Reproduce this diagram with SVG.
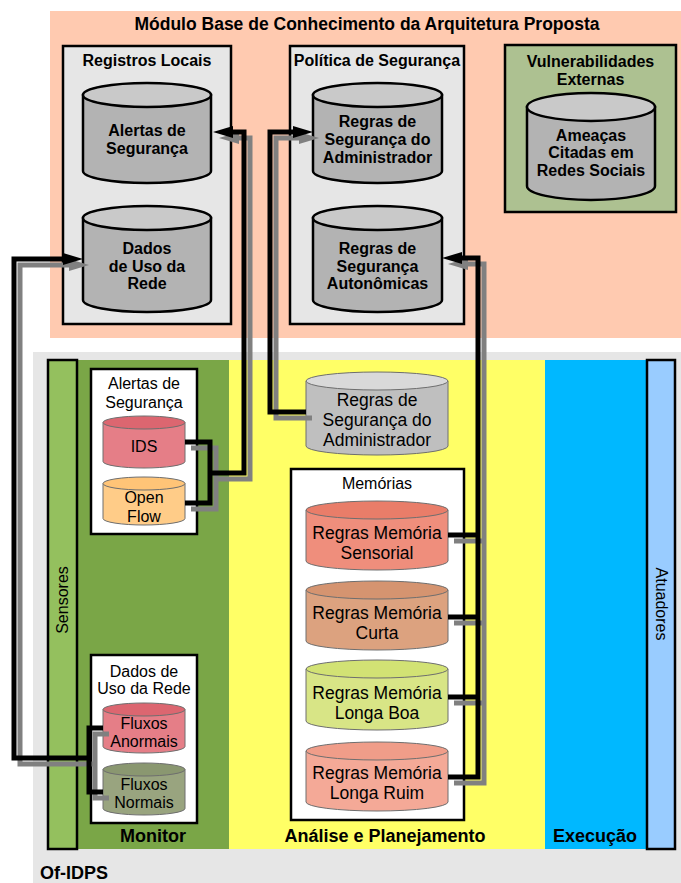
<svg xmlns="http://www.w3.org/2000/svg" width="681" height="883" viewBox="0 0 681 883">
  <style>
    text { font-family: "Liberation Sans", Arial, sans-serif; fill: #000; text-anchor: middle; }
    .title { font-size: 17.5px; font-weight: bold; }
    .hdr { font-size: 16px; font-weight: bold; }
    .sec { font-size: 18px; font-weight: bold; }
    .lbl { font-size: 16px; }
    .big { font-size: 17.5px; }
    .box { fill: #e6e6e6; stroke: #000; stroke-width: 2.5; }
    .wbox { fill: #fff; stroke: #000; stroke-width: 2.5; }
    .cylB { fill: #b3b3b3; stroke: #000; stroke-width: 2.5; }
    .cylT { fill: #c9c9c9; stroke: #000; stroke-width: 2.5; }
    .thin { stroke: #6e6e6e; stroke-width: 1; }
    .wire { fill: none; stroke: #000; stroke-width: 5; stroke-linejoin: miter; }
    .shadow { fill: none; stroke: #808080; stroke-width: 5; stroke-linejoin: miter; }
  </style>
  <defs>
    <marker id="ah" viewBox="0 0 20 12" refX="0" refY="6" markerWidth="20" markerHeight="12" markerUnits="userSpaceOnUse" orient="auto">
      <path d="M0,0 L20,6 L0,12 Z" fill="#000"/>
    </marker>
    <marker id="ahs" viewBox="0 0 20 12" refX="0" refY="6" markerWidth="20" markerHeight="12" markerUnits="userSpaceOnUse" orient="auto">
      <path d="M0,0 L20,6 L0,12 Z" fill="#808080"/>
    </marker>
  </defs>

  <rect width="681" height="883" fill="#fff"/>

  <!-- Knowledge base module -->
  <g id="knowledge-base">
    <rect x="50" y="11" width="631" height="327" fill="#ffcab0"/>
    <text class="title" x="367" y="30">Módulo Base de Conhecimento da Arquitetura Proposta</text>
  </g>

  <g id="registros-locais">
    <rect class="box" x="63" y="46" width="168" height="278"/>
    <text class="hdr" x="147" y="66">Registros Locais</text>
  </g>
  <g id="kb-alertas">
    <path class="cylB" d="M83,95 V171 A64,12 0 0 0 211,171 V95 Z"/>
    <ellipse class="cylT" cx="147" cy="95" rx="64" ry="12"/>
    <text class="hdr" x="147" y="136">Alertas de</text>
    <text class="hdr" x="147" y="154">Segurança</text>
  </g>
  <g id="kb-dados">
    <path class="cylB" d="M83,218 V300 A64,12 0 0 0 211,300 V218 Z"/>
    <ellipse class="cylT" cx="147" cy="218" rx="64" ry="12"/>
    <text class="hdr" x="147" y="254">Dados</text>
    <text class="hdr" x="147" y="272">de Uso da</text>
    <text class="hdr" x="147" y="289">Rede</text>
  </g>

  <g id="politica">
    <rect class="box" x="290" y="46" width="174" height="278"/>
    <text class="hdr" x="377" y="66">Política de Segurança</text>
  </g>
  <g id="kb-regras-admin">
    <path class="cylB" d="M313,95 V171 A64.5,12 0 0 0 442,171 V95 Z"/>
    <ellipse class="cylT" cx="377.5" cy="95" rx="64.5" ry="12"/>
    <text class="hdr" x="377.5" y="127">Regras de</text>
    <text class="hdr" x="377.5" y="145">Segurança do</text>
    <text class="hdr" x="377.5" y="163">Administrador</text>
  </g>
  <g id="kb-regras-auto">
    <path class="cylB" d="M313,218 V300 A64.5,12 0 0 0 442,300 V218 Z"/>
    <ellipse class="cylT" cx="377.5" cy="218" rx="64.5" ry="12"/>
    <text class="hdr" x="377.5" y="254">Regras de</text>
    <text class="hdr" x="377.5" y="272">Segurança</text>
    <text class="hdr" x="377.5" y="289">Autonômicas</text>
  </g>

  <g id="vulnerabilidades">
    <rect x="505" y="45" width="171" height="167" fill="#adc191" stroke="#000" stroke-width="2.5"/>
    <text class="hdr" x="590.5" y="67">Vulnerabilidades</text>
    <text class="hdr" x="590.5" y="85">Externas</text>
  </g>
  <g id="kb-ameacas">
    <path class="cylB" d="M527,107 V186 A64,14 0 0 0 655,186 V107 Z"/>
    <ellipse class="cylT" cx="591" cy="107" rx="64" ry="14"/>
    <text class="hdr" x="591" y="141">Ameaças</text>
    <text class="hdr" x="591" y="158">Citadas em</text>
    <text class="hdr" x="591" y="176">Redes Sociais</text>
  </g>

  <!-- Of-IDPS system -->
  <g id="of-idps">
    <rect x="33" y="352" width="648" height="531" fill="#e6e6e6"/>
    <rect x="48" y="360" width="181" height="489" fill="#7aa647"/>
    <rect x="229" y="360" width="316" height="489" fill="#ffff66"/>
    <rect x="545" y="360" width="102" height="489" fill="#00b8ff"/>
    <text class="sec" x="40" y="879" style="text-anchor:start">Of-IDPS</text>
    <text class="sec" x="153" y="842">Monitor</text>
    <text class="sec" x="385" y="842">Análise e Planejamento</text>
    <text class="sec" x="595" y="842">Execução</text>
  </g>

  <g id="sensores">
    <rect x="48" y="360" width="29" height="489" fill="#94c05e" stroke="#000" stroke-width="2.5"/>
    <text class="lbl" transform="translate(68,600) rotate(-90)">Sensores</text>
  </g>
  <g id="atuadores">
    <rect x="647" y="360" width="28" height="489" fill="#99ccff" stroke="#000" stroke-width="2.5"/>
    <text class="lbl" transform="translate(656,604) rotate(90)">Atuadores</text>
  </g>

  <g id="mon-alertas">
    <rect class="wbox" x="91" y="369" width="106" height="165"/>
    <text class="lbl" x="144" y="389">Alertas de</text>
    <text class="lbl" x="144" y="408">Segurança</text>
  </g>
  <g id="mon-ids">
    <path class="thin" fill="#e57e87" d="M103,422.5 V461.5 A41,6.5 0 0 0 185,461.5 V422.5 Z"/>
    <ellipse class="thin" fill="#dc6670" cx="144" cy="422.5" rx="41" ry="6.5"/>
    <text class="lbl" x="144" y="452">IDS</text>
  </g>
  <g id="mon-openflow">
    <path class="thin" fill="#ffcc88" d="M103,483.5 V518.5 A41,6.5 0 0 0 185,518.5 V483.5 Z"/>
    <ellipse class="thin" fill="#ffc477" cx="144" cy="483.5" rx="41" ry="6.5"/>
    <text class="lbl" x="144" y="503">Open</text>
    <text class="lbl" x="144" y="522">Flow</text>
  </g>

  <g id="mon-dados">
    <rect class="wbox" x="91" y="655" width="106" height="168"/>
    <text class="lbl" x="144" y="677">Dados de</text>
    <text class="lbl" x="144" y="694">Uso da Rede</text>
  </g>
  <g id="mon-anormais">
    <path class="thin" fill="#e57e87" d="M103,709.5 V746.5 A41,6.5 0 0 0 185,746.5 V709.5 Z"/>
    <ellipse class="thin" fill="#dc6670" cx="144" cy="709.5" rx="41" ry="6.5"/>
    <text class="lbl" x="144" y="729">Fluxos</text>
    <text class="lbl" x="144" y="747">Anormais</text>
  </g>
  <g id="mon-normais">
    <path class="thin" fill="#99a47f" d="M103,769.5 V808.5 A41,6.5 0 0 0 185,808.5 V769.5 Z"/>
    <ellipse class="thin" fill="#8a9770" cx="144" cy="769.5" rx="41" ry="6.5"/>
    <text class="lbl" x="144" y="790">Fluxos</text>
    <text class="lbl" x="144" y="808">Normais</text>
  </g>

  <g id="ap-regras-admin">
    <path class="thin" fill="#bfbfbf" d="M306,381 V446 A71,9 0 0 0 448,446 V381 Z"/>
    <ellipse class="thin" fill="#d9d9d9" cx="377" cy="381" rx="71" ry="9"/>
    <text class="big" x="377" y="406">Regras de</text>
    <text class="big" x="377" y="426">Segurança do</text>
    <text class="big" x="377" y="446">Administrador</text>
  </g>

  <g id="memorias">
    <rect class="wbox" x="291" y="469" width="173" height="351"/>
    <text class="lbl" x="377" y="489">Memórias</text>
  </g>
  <g id="mem-sensorial">
    <path class="thin" fill="#ef8e7c" d="M306,510 V561 A71,9 0 0 0 448,561 V510 Z"/>
    <ellipse class="thin" fill="#e97d69" cx="377" cy="510" rx="71" ry="9"/>
    <text class="big" x="377" y="539">Regras Memória</text>
    <text class="big" x="377" y="559">Sensorial</text>
  </g>
  <g id="mem-curta">
    <path class="thin" fill="#dca27f" d="M306,590 V641 A71,9 0 0 0 448,641 V590 Z"/>
    <ellipse class="thin" fill="#d59470" cx="377" cy="590" rx="71" ry="9"/>
    <text class="big" x="377" y="619">Regras Memória</text>
    <text class="big" x="377" y="639">Curta</text>
  </g>
  <g id="mem-longa-boa">
    <path class="thin" fill="#d8e586" d="M306,669 V721 A71,9 0 0 0 448,721 V669 Z"/>
    <ellipse class="thin" fill="#d2e274" cx="377" cy="669" rx="71" ry="9"/>
    <text class="big" x="377" y="699">Regras Memória</text>
    <text class="big" x="377" y="719">Longa Boa</text>
  </g>
  <g id="mem-longa-ruim">
    <path class="thin" fill="#f4a997" d="M306,751 V802 A71,9 0 0 0 448,802 V751 Z"/>
    <ellipse class="thin" fill="#f09d89" cx="377" cy="751" rx="71" ry="9"/>
    <text class="big" x="377" y="779">Regras Memória</text>
    <text class="big" x="377" y="799">Longa Ruim</text>
  </g>

  <!-- Connectors: drop shadow first, then the black wires -->
  <g id="connectors">
    <g transform="translate(6,6)">
      <path class="shadow" d="M185,442 H210 V503 H185 M210,473 H244 V132 H233" marker-end="url(#ahs)"/>
      <path class="shadow" d="M306,412 H270 V132 H293" marker-end="url(#ahs)"/>
      <path class="shadow" d="M448,535 H478 M448,617 H478 M448,697 H478 M448,777 H478 V258 H462" marker-end="url(#ahs)"/>
      <path class="shadow" d="M103,728 H89 V792 H103 M89,758 H14 V259 H63" marker-end="url(#ahs)"/>
    </g>
    <path class="wire" d="M185,442 H210 V503 H185 M210,473 H244 V132 H233" marker-end="url(#ah)"/>
    <path class="wire" d="M306,412 H270 V132 H293" marker-end="url(#ah)"/>
    <path class="wire" d="M448,535 H478 M448,617 H478 M448,697 H478 M448,777 H478 V258 H462" marker-end="url(#ah)"/>
    <path class="wire" d="M103,728 H89 V792 H103 M89,758 H14 V259 H63" marker-end="url(#ah)"/>
  </g>
</svg>
